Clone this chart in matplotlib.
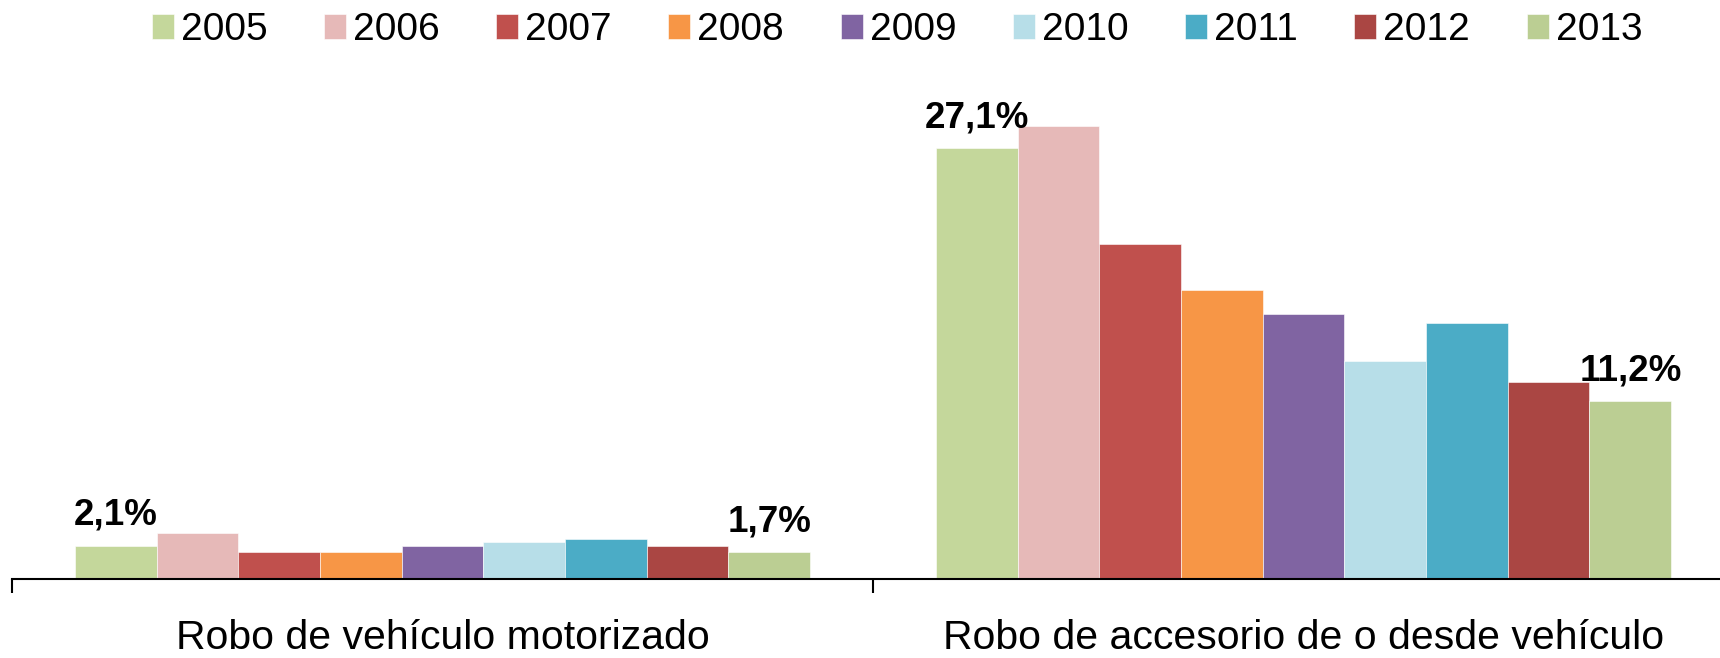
import matplotlib
matplotlib.use("Agg")
import matplotlib.pyplot as plt
from matplotlib import font_manager
import numpy as np

categories = ["Robo de vehículo motorizado", "Robo de accesorio de o desde vehículo"]
years = ["2005", "2006", "2007", "2008", "2009", "2010", "2011", "2012", "2013"]
values = {
    "2005": [2.1, 27.1],
    "2006": [2.9, 28.5],
    "2007": [1.7, 21.1],
    "2008": [1.7, 18.2],
    "2009": [2.1, 16.7],
    "2010": [2.3, 13.7],
    "2011": [2.5, 16.1],
    "2012": [2.1, 12.4],
    "2013": [1.7, 11.2],
}
colors = ["#C4D79B", "#E6B9B8", "#C0504D", "#F79646", "#8064A2",
          "#B7DEE8", "#4BACC6", "#AA4643", "#BBCE93"]
labels = {("2005", 0): "2,1%", ("2013", 0): "1,7%",
          ("2005", 1): "27,1%", ("2013", 1): "11,2%"}

names = {f.name for f in font_manager.fontManager.ttflist}
narrow = "Liberation Sans Narrow" if "Liberation Sans Narrow" in names else "Liberation Sans"
plt.rcParams["font.family"] = ["Liberation Sans", "DejaVu Sans"]

W, H = 1720, 658
fig = plt.figure(figsize=(W / 100, H / 100), dpi=100)
ax_left = 12 / W
ax_bottom = (H - 579) / H
ax_h = 499 / H
ax = fig.add_axes([ax_left, ax_bottom, 1722 / W, ax_h])

n = len(years)
bw = 0.0949
x = np.arange(len(categories))
for i, (yr, c) in enumerate(zip(years, colors)):
    pos = x + (i - (n - 1) / 2) * bw
    ax.bar(pos, values[yr], width=bw, color=c, edgecolor="white",
           linewidth=0.4, label=yr, zorder=2)
    for j in range(len(categories)):
        if (yr, j) in labels:
            ax.annotate(labels[(yr, j)], (pos[j], values[yr][j]),
                        xytext=(0, 15), textcoords="offset points",
                        ha="center", va="baseline", fontsize=26.5,
                        fontweight="bold", family=[narrow, "DejaVu Sans"])

ax.set_xlim(-0.5, 1.5)
ax.set_ylim(0, 31.4)
ax.set_yticks([])
for s in ["top", "left", "right"]:
    ax.spines[s].set_visible(False)
ax.spines["bottom"].set_linewidth(1.5)
ax.set_xticks(x)
ax.set_xticklabels(categories, fontsize=29.5)
ax.tick_params(axis="x", which="major", length=0, pad=29)
ax.set_xticks([-0.5, 0.5, 1.5], minor=True)
ax.tick_params(axis="x", which="minor", length=10, width=1.5, color="black")

fig.legend(loc="center", bbox_to_anchor=(897 / W, 1 - 30 / H), ncol=9,
           frameon=False, fontsize=28, handlelength=0.57, handleheight=0.6,
           handletextpad=0.18, columnspacing=1.45, borderaxespad=0)

fig.savefig("out.png", dpi=100)
